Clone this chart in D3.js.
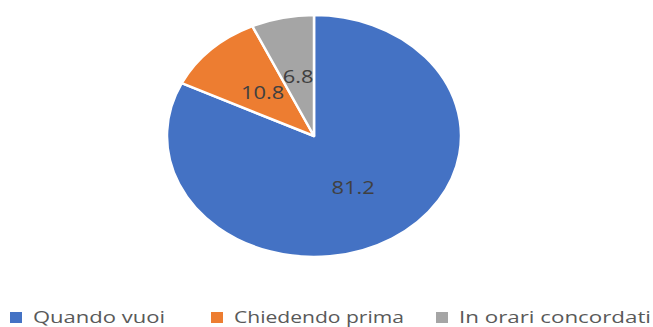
<!DOCTYPE html>
<html>
<head>
<meta charset="utf-8">
<script src="https://cdn.jsdelivr.net/npm/d3@7/dist/d3.min.js"></script>
<style>
  html, body { margin: 0; padding: 0; background: #fff; }
  svg { display: block; }
</style>
</head>
<body>
<svg id="chart" width="653" height="327"></svg>
<script>
// Survey answers: when the respondent can use it
const categories = ["Quando vuoi", "Chiedendo prima", "In orari concordati"];
const values = [81.2, 10.8, 6.8];
const colors = ["#4472C4", "#ED7D31", "#A5A5A5"];

const W = 653, H = 327;
const cx = 314, cy = 136;
const ry = 121, rx = 147;          // pie is drawn stretched horizontally
const sx = rx / ry;

// legend layout: swatch left edges and stretched text widths
const legendX = [10, 211, 436];
const legendTextW = [132, 170, 192];

const svg = d3.select("#chart");
const data = categories.map((c, i) => ({ name: c, value: values[i], color: colors[i] }));

const pie = d3.pie().sort(null).value(d => d.value);
const arc = d3.arc().innerRadius(0).outerRadius(ry);

const g = svg.append("g").attr("transform", `translate(${cx},${cy}) scale(${sx},1)`);

g.selectAll("path.slice")
  .data(pie(data))
  .join("path")
  .attr("class", "slice")
  .attr("d", arc)
  .attr("fill", d => d.data.color)
  .attr("stroke", "#fff")
  .attr("stroke-width", 2.5)
  .attr("stroke-linejoin", "round")
  .attr("vector-effect", "non-scaling-stroke");

g.selectAll("text.val")
  .data(pie(data))
  .join("text")
  .attr("class", "val")
  .attr("x", d => arc.centroid(d)[0])
  .attr("y", d => arc.centroid(d)[1])
  .attr("dy", "0.36em")
  .attr("text-anchor", "middle")
  .attr("font-family", "'Open Sans', sans-serif")
  .attr("font-size", 18)
  .attr("fill", "#404040")
  .text(d => d.data.value.toFixed(1));

// Legend along the bottom
const legend = svg.append("g").attr("transform", "translate(0,312)");
const items = legend.selectAll("g.item")
  .data(data)
  .join("g")
  .attr("class", "item")
  .attr("transform", (d, i) => `translate(${legendX[i]},0)`);

items.append("rect")
  .attr("width", 12)
  .attr("height", 11)
  .attr("fill", d => d.color);

items.append("text")
  .attr("x", 23)
  .attr("y", 11)
  .attr("textLength", (d, i) => legendTextW[i])
  .attr("lengthAdjust", "spacingAndGlyphs")
  .attr("font-family", "'Open Sans', sans-serif")
  .attr("font-size", 16)
  .attr("fill", "#595959")
  .text(d => d.name);
</script>
</body>
</html>
